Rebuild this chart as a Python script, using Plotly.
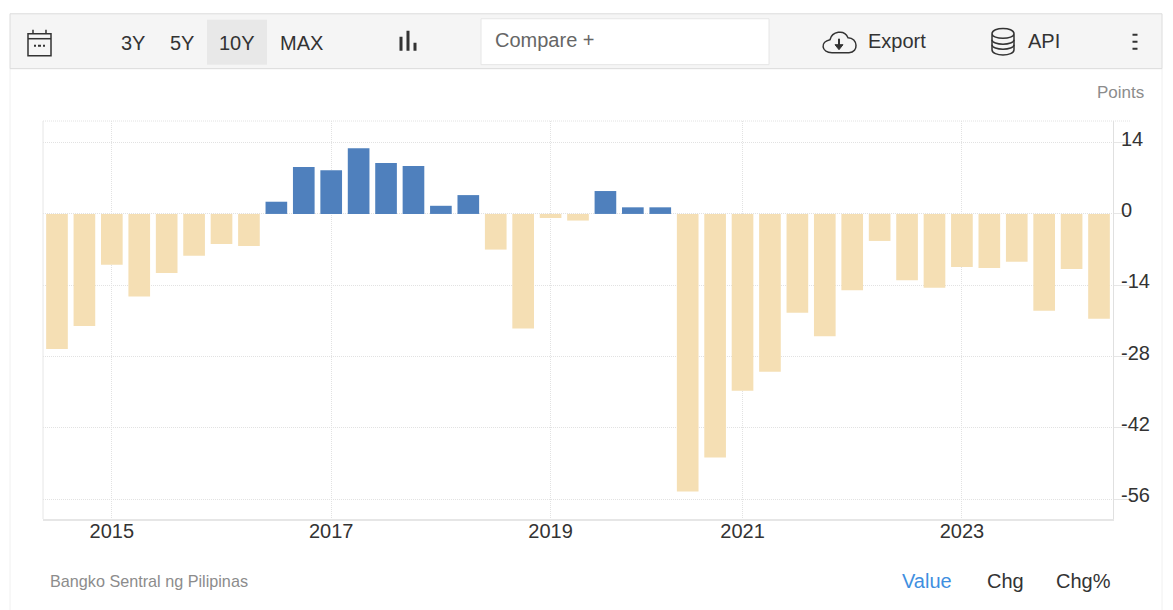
import plotly.graph_objects as go

# quarters on the axis, 2020 Q2 has no bar in the source
quarters = [
    "2014Q3", "2014Q4",
    "2015Q1", "2015Q2", "2015Q3", "2015Q4",
    "2016Q1", "2016Q2", "2016Q3", "2016Q4",
    "2017Q1", "2017Q2", "2017Q3", "2017Q4",
    "2018Q1", "2018Q2", "2018Q3", "2018Q4",
    "2019Q1", "2019Q2", "2019Q3", "2019Q4",
    "2020Q1", "2020Q3", "2020Q4",
    "2021Q1", "2021Q2", "2021Q3", "2021Q4",
    "2022Q1", "2022Q2", "2022Q3", "2022Q4",
    "2023Q1", "2023Q2", "2023Q3", "2023Q4",
    "2024Q1", "2024Q2",
]
values = [
    -26.5, -22.0,
    -10.0, -16.2, -11.6, -8.2,
    -5.9, -6.3, 2.4, 9.2,
    8.6, 12.9, 10.0, 9.4,
    1.6, 3.7, -7.0, -22.5,
    -0.8, -1.3, 4.5, 1.3,
    1.3, -54.5, -47.8,
    -34.7, -31.0, -19.4, -24.0,
    -15.0, -5.3, -13.0, -14.5,
    -10.4, -10.6, -9.4, -19.0,
    -10.8, -20.6,
]
year_ticks = ["2015Q1", "2017Q1", "2019Q1", "2021Q1", "2023Q1"]
year_labels = ["2015", "2017", "2019", "2021", "2023"]
y_ticks = [14, 0, -14, -28, -42, -56]
y_labels = ["14", "0", "-14", "-28", "-42", "-56"]
range_buttons = [("3Y", 133), ("5Y", 182), ("10Y", 237), ("MAX", 301)]
source_tabs = [("Value", 927, "#3f8fe0"), ("Chg", 1005, "#333333"), ("Chg%", 1083, "#333333")]

BLUE = "#4f80bd"
TAN = "#f5dfb4"
GRID = "#e2e2e2"
FONT = "Liberation Sans"

# page geometry, in screenshot pixels; the page body adds an 8px margin
PAD = 8
W, H = 1173 - 2 * PAD, 610 - PAD
L, R, T, B = 43, 1113, 120.5, 519.5


def px(x):
    return (x - L) / (R - L)


def py(y):
    return (B - y) / (B - T)


def rect(x0, y0, x1, y1, fill="rgba(0,0,0,0)", line=None, width=1):
    return dict(type="rect", xref="paper", yref="paper", x0=px(x0), x1=px(x1), y0=py(y0), y1=py(y1),
                fillcolor=fill, line=dict(color=line, width=width if line else 0), layer="below")


def path(tokens, line="#333333", width=1.5, fill="rgba(0,0,0,0)", dash="solid"):
    # tokens: commands and pixel pairs, e.g. ["M", (1, 2), "L", (3, 4), "Z"]
    parts = []
    for t in tokens:
        parts.append(t if isinstance(t, str) else f"{px(t[0]):.5f},{py(t[1]):.5f}")
    return dict(type="path", xref="paper", yref="paper", path=" ".join(parts),
                line=dict(color=line, width=width, dash=dash), fillcolor=fill)


def label(x, y, text, size=20, color="#333333", anchor="center"):
    return dict(xref="paper", yref="paper", x=px(x), y=py(y), text=text, showarrow=False,
                xanchor=anchor, yanchor="middle", font=dict(family=FONT, size=size, color=color))


shapes = [
    # side borders of the panel, toolbar and its controls
    rect(10, 68, 1162, 625, fill="#ffffff", line="#f0f0f0"),
    rect(10, 13, 1162, 68, fill="#f5f5f5", line="#dcdcdc"),
    rect(207, 19, 267, 64, fill="#e8e8e8"),
    rect(481, 18, 769, 64, fill="#ffffff", line="#e6e6e6"),
    # plot frame: dotted top, left edge
    path(["M", (L, T), "L", (1130, T)], line=GRID, width=1, dash="1px,1px"),
    path(["M", (L, T), "L", (L, B)], line="#e6e6e6", width=1),
    # calendar icon
    path(["M", (28, 33), "L", (28, 55), "L", (51, 55), "L", (51, 33), "Z"]),
    path(["M", (28, 38), "L", (51, 38)]),
    path(["M", (33, 29), "L", (33, 33), "M", (46, 29), "L", (46, 33)]),
    path(["M", (34, 45), "L", (36, 45), "M", (38, 45), "L", (41, 45), "M", (43, 45), "L", (45, 45)], width=2),
    # bar type icon
    path(["M", (401, 36), "L", (401, 50), "M", (408, 30), "L", (408, 50), "M", (415, 42), "L", (415, 50)], width=3),
    # export cloud
    path(["M", (832, 52), "C", (821, 52), (820, 41), (830, 39), "C", (832, 31), (844, 28), (848, 37),
          "C", (858, 37), (859, 52), (849, 52), "Z"]),
    path(["M", (839, 38), "L", (839, 46)], width=2),
    path(["M", (835, 44), "L", (843, 44), "L", (839, 49), "Z"], width=1, fill="#333333"),
    # database icon
    path(["M", (992, 33), "C", (992, 26), (1014, 26), (1014, 33), "C", (1014, 39), (992, 39), (992, 33),
          "L", (992, 49), "C", (992, 56), (1014, 56), (1014, 49), "L", (1014, 33)]),
    path(["M", (992, 39), "C", (992, 45), (1014, 45), (1014, 39)]),
    path(["M", (992, 44), "C", (992, 50), (1014, 50), (1014, 44)]),
    # kebab menu
    path(["M", (1135, 33), "L", (1135, 35), "M", (1135, 40), "L", (1135, 42), "M", (1135, 47), "L", (1135, 49)],
         width=5),
]

annotations = [label(x, 42, t, size=20) for t, x in range_buttons]
annotations += [
    label(493, 39, "Compare +", size=20, color="#666666", anchor="left"),
    label(866, 40, "Export", size=20, anchor="left"),
    label(1026, 40, "API", size=20, anchor="left"),
    label(1146, 92, "Points", size=17, color="#8c8c8c", anchor="right"),
    label(48, 582, "Bangko Sentral ng Pilipinas", size=16.2, color="#8c8c8c", anchor="left"),
]
annotations += [label(x, 582, t, size=20, color=c) for t, x, c in source_tabs]

fig = go.Figure(
    go.Bar(
        x=quarters,
        y=values,
        marker=dict(color=[BLUE if v > 0 else TAN for v in values], line=dict(width=0)),
    )
)
fig.update_layout(
    width=W,
    height=H,
    autosize=False,
    margin=dict(l=L - PAD, r=W + PAD - R, t=T - PAD, b=H + PAD - B, pad=0),
    paper_bgcolor="#ffffff",
    plot_bgcolor="#ffffff",
    bargap=0.21,
    showlegend=False,
    shapes=shapes,
    annotations=annotations,
    font=dict(family=FONT, color="#333333"),
)
fig.update_xaxes(
    automargin=False,
    type="category",
    categoryorder="array",
    categoryarray=quarters,
    range=[-0.51, 38.51],
    tickvals=year_ticks,
    ticktext=year_labels,
    tickfont=dict(size=20),
    ticks="",
    ticklabelstandoff=-7,
    showgrid=True,
    gridcolor=GRID,
    griddash="1px,1px",
    gridwidth=1,
    showline=True,
    linecolor="#e6e6e6",
    linewidth=2,
    mirror=False,
    zeroline=False,
)
fig.update_yaxes(
    automargin=False,
    side="right",
    range=[-59.9, 18.25],
    tickvals=y_ticks,
    ticktext=y_labels,
    tickfont=dict(size=20),
    ticks="outside",
    ticklen=16,
    tickcolor="#e6e6e6",
    tickwidth=1,
    ticklabelshift=-4,
    ticklabelstandoff=-13,
    showgrid=True,
    gridcolor=GRID,
    griddash="1px,1px",
    gridwidth=1,
    showline=True,
    linecolor="#e0e0e0",
    linewidth=1,
    zeroline=False,
)

fig.write_html("out.html")
